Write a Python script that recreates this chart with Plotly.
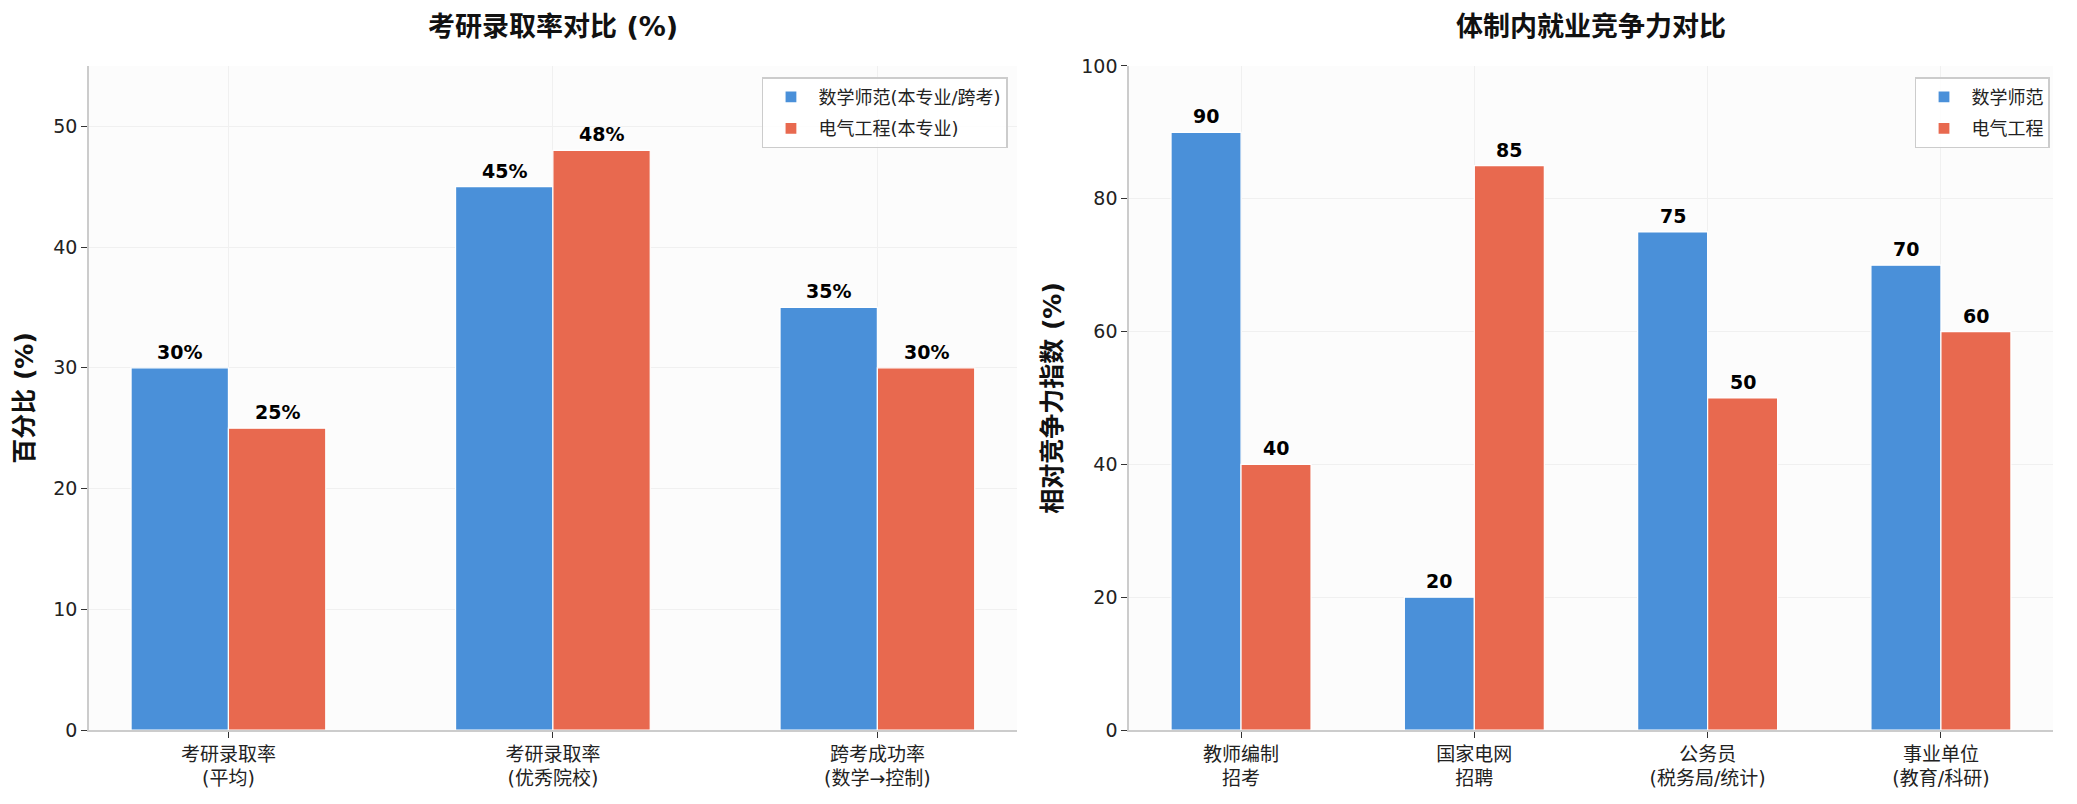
import plotly.graph_objects as go

# left panel: postgraduate admission rates
cats_left = ["考研录取率<br>(平均)", "考研录取率<br>(优秀院校)", "跨考成功率<br>(数学→控制)"]
math_left = [30, 45, 35]
ee_left = [25, 48, 30]

# right panel: public sector competitiveness
cats_right = ["教师编制<br>招考", "国家电网<br>招聘", "公务员<br>(税务局/统计)", "事业单位<br>(教育/科研)"]
math_right = [90, 20, 75, 70]
ee_right = [40, 85, 50, 60]

BLUE = "#4A90D9"
RED = "#E8694F"
FONT = "DejaVu Sans, Noto Sans CJK SC, sans-serif"
W = 0.3

fig = go.Figure()

def add_pair(vals_a, vals_b, name_a, name_b, xa, ya, leg, suffix):
    idx = list(range(len(vals_a)))
    for vals, name, col, off in [(vals_a, name_a, BLUE, -W / 2), (vals_b, name_b, RED, W / 2)]:
        xs = [i + off for i in idx]
        fig.add_trace(go.Bar(x=xs, y=vals, width=W, name=name, marker_color=col,
                             marker_line=dict(color="white", width=1.2),
                             legendgroup=xa + name,
                             xaxis=xa, yaxis=ya, legend=leg))
        for x, v in zip(xs, vals):
            fig.add_annotation(x=x, y=v, xref=xa, yref=ya, text=f"<b>{v}{suffix}</b>",
                               showarrow=False, yanchor="bottom", yshift=3,
                               font=dict(size=19, color="black", family=FONT))

add_pair(math_left, ee_left, "数学师范(本专业/跨考)", "电气工程(本专业)", "x", "y", "legend", "%")
add_pair(math_right, ee_right, "数学师范", "电气工程", "x2", "y2", "legend2", "")

axis_common = dict(showline=True, linecolor="#CCCCCC", linewidth=1.5, mirror=False,
                   showgrid=True, gridcolor="#F0F0F0", gridwidth=1, automargin=False,
                   ticks="outside", ticklen=6, tickwidth=1, tickcolor="#333333",
                   tickfont=dict(size=19, color="#222222", family=FONT), zeroline=False)

legend_common = dict(yanchor="top", xanchor="right", y=0.904,
                     bgcolor="rgba(255,255,255,0.85)", bordercolor="#CCCCCC", borderwidth=1.5,
                     font=dict(size=18, family=FONT, color="#222222"),
                     tracegroupgap=5, itemwidth=45)

fig.update_layout(
    template="none",
    width=2077, height=804,
    margin=dict(l=0, r=0, t=0, b=0, autoexpand=False),
    paper_bgcolor="white", plot_bgcolor="#FCFCFC",
    font=dict(family=FONT, color="#222222"),
    barmode="overlay",
    xaxis=dict(domain=[0.0428, 0.4896], range=[-0.43, 2.43],
               tickvals=list(range(len(cats_left))), ticktext=cats_left, **axis_common),
    yaxis=dict(domain=[0.092, 0.918], range=[0, 55], tickvals=[0, 10, 20, 30, 40, 50],
               title=dict(text="<b>百分比 (%)</b>", font=dict(size=25, family=FONT, color="#111111"),
                          standoff=12), **axis_common),
    xaxis2=dict(domain=[0.5436, 0.9884], range=[-0.48, 3.48], anchor="y2",
                tickvals=list(range(len(cats_right))), ticktext=cats_right, **axis_common),
    yaxis2=dict(domain=[0.092, 0.918], range=[0, 100], anchor="x2",
                tickvals=[0, 20, 40, 60, 80, 100],
                title=dict(text="<b>相对竞争力指数 (%)</b>", font=dict(size=25, family=FONT, color="#111111"),
                           standoff=12), **axis_common),
    legend=dict(x=0.4853, **legend_common),
    legend2=dict(x=0.987, **legend_common),
)

for txt, xc in [("考研录取率对比 (%)", (0.0428 + 0.4896) / 2), ("体制内就业竞争力对比", (0.5436 + 0.9884) / 2)]:
    fig.add_annotation(text=f"<b>{txt}</b>", x=xc, y=1 - 26 / 804, xref="paper", yref="paper",
                       showarrow=False, xanchor="center", yanchor="middle",
                       font=dict(size=27, family=FONT, color="#111111"))

fig.write_html("out.html", config={"displayModeBar": False},
               post_script="document.body.style.margin='0';")
